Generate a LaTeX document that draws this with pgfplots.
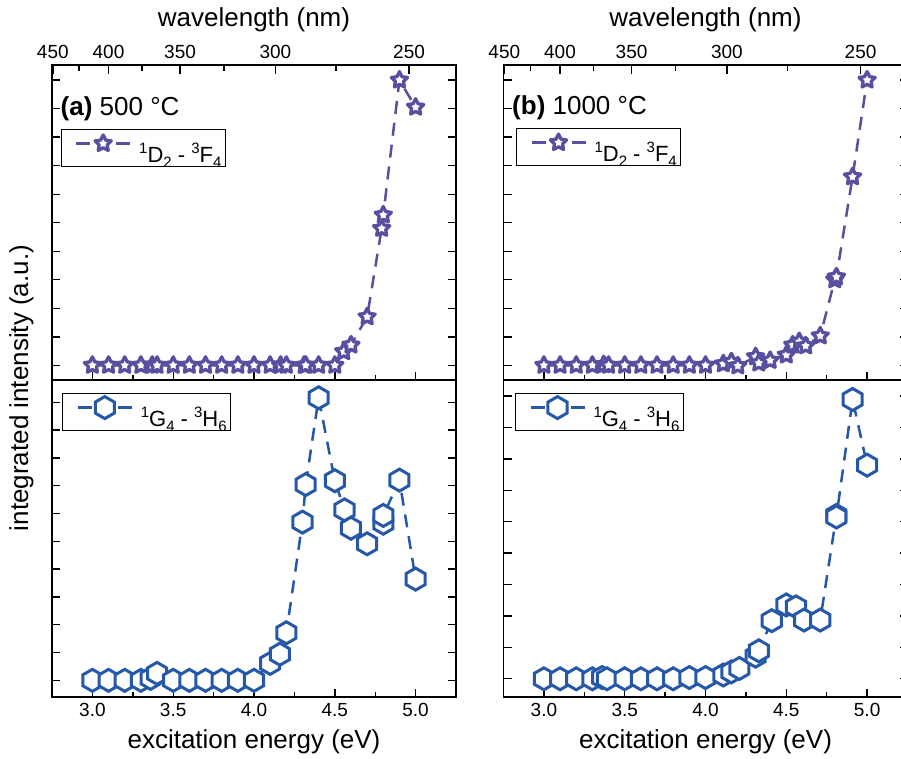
\documentclass[border=0pt]{standalone}
\usepackage{fontspec}
\setmainfont{Liberation Sans}
\usepackage{pgfplots}
\usepackage{pgfplotstable}
\pgfplotsset{compat=1.18}

\definecolor{starcol}{RGB}{89,79,161}
\definecolor{hexcol}{RGB}{38,88,170}

% open five-pointed star
\pgfdeclareplotmark{fivestar}{%
  \pgfpathmoveto{\pgfpointpolar{90}{\pgfplotmarksize}}%
  \pgfpathlineto{\pgfpointpolar{126}{0.5*\pgfplotmarksize}}%
  \pgfpathlineto{\pgfpointpolar{162}{\pgfplotmarksize}}%
  \pgfpathlineto{\pgfpointpolar{198}{0.5*\pgfplotmarksize}}%
  \pgfpathlineto{\pgfpointpolar{234}{\pgfplotmarksize}}%
  \pgfpathlineto{\pgfpointpolar{270}{0.5*\pgfplotmarksize}}%
  \pgfpathlineto{\pgfpointpolar{306}{\pgfplotmarksize}}%
  \pgfpathlineto{\pgfpointpolar{342}{0.5*\pgfplotmarksize}}%
  \pgfpathlineto{\pgfpointpolar{18}{\pgfplotmarksize}}%
  \pgfpathlineto{\pgfpointpolar{54}{0.5*\pgfplotmarksize}}%
  \pgfpathclose
  \pgfusepathqfillstroke
}
% open hexagon, pointy top
\pgfdeclareplotmark{hexa}{%
  \pgfpathmoveto{\pgfpointpolar{90}{\pgfplotmarksize}}%
  \pgfpathlineto{\pgfpointpolar{150}{\pgfplotmarksize}}%
  \pgfpathlineto{\pgfpointpolar{210}{\pgfplotmarksize}}%
  \pgfpathlineto{\pgfpointpolar{270}{\pgfplotmarksize}}%
  \pgfpathlineto{\pgfpointpolar{330}{\pgfplotmarksize}}%
  \pgfpathlineto{\pgfpointpolar{30}{\pgfplotmarksize}}%
  \pgfpathclose
  \pgfusepathqfillstroke
}

% excitation energy (eV) vs integrated intensity (a.u.)
\pgfplotstableread{
E     I
3.00  0
3.10  0
3.20  0
3.30  0
3.37  0
3.40  0
3.50  0
3.60  0
3.70  0
3.80  0
3.90  0
4.00  0
4.10  0
4.165 0
4.20  0
4.31  0
4.32  0
4.40  0
4.50  0
4.555 0.48
4.60  0.71
4.70  1.70
4.79  4.80
4.80  5.27
4.90  10.0
5.00  9.05
}\aD
\pgfplotstableread{
E     I
3.00  0
3.10  0
3.20  0
3.30  0
3.36  0.07
3.40  0.25
3.50  0
3.60  0
3.70  0
3.80  0
3.90  0
4.00  0
4.10  0.61
4.16  0.94
4.20  1.71
4.30  5.69
4.32  7.04
4.40  10.16
4.50  7.18
4.56  6.13
4.60  5.47
4.70  4.91
4.80  5.65
4.80  5.93
4.90  7.20
5.00  3.64
}\aG
\pgfplotstableread{
E     I
3.00  0
3.10  0
3.20  0
3.30  0
3.37  0.02
3.40  0
3.50  0
3.60  0
3.70  0
3.80  0
3.90  0
4.00  0
4.11  0.05
4.16  0.12
4.20  -0.02
4.31  0.30
4.33  0.08
4.40  0.17
4.50  0.36
4.54  0.71
4.58  0.83
4.62  0.68
4.71  1.03
4.80  3.00
4.81  3.10
4.91  6.61
5.00  10.0
}\bD
\pgfplotstableread{
E     I
3.00  0
3.10  0
3.20  0
3.30  0
3.36  0.04
3.39  0
3.50  0
3.60  0
3.70  0
3.80  0
3.90  0.04
4.00  0.04
4.11  0.12
4.16  0.22
4.21  0.33
4.31  0.72
4.33  0.89
4.41  1.85
4.50  2.35
4.56  2.29
4.61  1.87
4.71  1.87
4.81  5.20
4.81  5.15
4.91  8.89
5.00  6.80
}\bG

\pgfplotsset{
  panel/.style={
    scale only axis, anchor=north west, width=404pt,
    xmin=2.75, xmax=5.25,
    xtick={3,3.5,4,4.5,5}, minor xtick={3.25,3.75,4.25,4.75},
    xtick pos=left, tick align=inside,
    yticklabels={},
    major tick length=8pt, minor tick length=5pt,
    axis line style={line width=1.4pt},
    every tick/.style={black, line width=1.4pt},
    tick label style={font=\fontsize{19}{21}\selectfont},
    /pgf/number format/assume math mode=true,
    legend cell align=left,
    legend style={draw=black, line width=1pt, anchor=north west,
      font=\fontsize{22}{24}\selectfont, inner xsep=2pt, inner ysep=1pt,
      nodes={inner xsep=2pt, inner ysep=1pt}},
    legend image code/.code={
      \path[draw=none, fill=none] (-13pt,4pt) rectangle (61pt,5pt);
      \draw[#1,solid,line width=2.8pt] (0pt,4.5pt) -- (14pt,4.5pt);
      \draw[#1,solid,line width=2.8pt] (40pt,4.5pt) -- (54pt,4.5pt);
      \draw[#1,solid] plot[only marks] coordinates {(27pt,4.5pt)};
    },
  },
  toppanel/.style={panel, height=315pt, ymin=-0.515, ymax=10.53,
    ytick={0,...,10}, xticklabels={}},
  wavelength/.style={
    scale only axis, anchor=north west, width=404pt, height=315pt,
    xmin=2.75, xmax=5.25, ymin=0, ymax=1,
    axis x line*=top, axis y line=none,
    tick align=inside,
    xtick={2.7552,3.0996,3.5424,4.1328,4.9594},
    xticklabels={450,400,350,300,250},
    minor xtick={2.9173,3.3062,3.8149,4.5085},
    major tick length=9pt, minor tick length=6pt,
    axis line style={line width=1.4pt},
    every tick/.style={black, line width=1.4pt},
    xticklabel style={font=\fontsize{19}{21}\selectfont, yshift=3pt},
    /pgf/number format/assume math mode=true,
  },
  botpanel/.style={panel, height=317pt,
    xticklabels={3.0,3.5,4.0,4.5,5.0},
    xticklabel style={yshift=-3pt}},
  starline/.style={color=starcol, line width=2.5pt,
    dash pattern=on 13pt off 9pt,
    mark=fivestar, mark size=8.5pt,
    mark options={solid, fill=white, line width=3.3pt, line join=round}},
  hexline/.style={color=hexcol, line width=2.5pt,
    dash pattern=on 13pt off 9pt,
    mark=hexa, mark size=11pt,
    mark options={solid, fill=white, line width=3pt, line join=miter}},
}

% term symbols: raised left superscript, lowered subscript
\newcommand{\sml}[1]{{\fontsize{15}{15}\selectfont #1}}
\newcommand{\term}[3]{\raisebox{9pt}{\sml{#1}}#2\raisebox{-5pt}{\sml{#3}}}
\newcommand{\lstrut}{\rule[-6.7pt]{0pt}{37.7pt}}
\newcommand{\Dlevel}{\lstrut\term{1}{D}{2} - \term{3}{F}{4}}
\newcommand{\Glevel}{\lstrut\term{1}{G}{4} - \term{3}{H}{6}}

\begin{document}
\begin{tikzpicture}
\path[use as bounding box] (0pt,0pt) rectangle (901pt,-758pt);

% ---------- (a) 500 C ----------
\begin{axis}[toppanel, at={(52pt,-65pt)},
    legend style={at={(0.0215,0.796)}}]
  \addplot[starline] table[x=E,y=I] {\aD};
  \addlegendentry{\Dlevel}
\end{axis}
\begin{axis}[wavelength, at={(52pt,-65pt)}]
\end{axis}
\begin{axis}[botpanel, at={(52pt,-380pt)},
    ymin=-0.6, ymax=10.8, ytick={0,...,10},
    legend style={at={(0.0255,0.958)}}]
  \addplot[hexline] table[x=E,y=I] {\aG};
  \addlegendentry{\Glevel}
\end{axis}

% ---------- (b) 1000 C ----------
\begin{axis}[toppanel, at={(503.5pt,-65pt)},
    legend style={at={(0.031,0.799)}}]
  \addplot[starline] table[x=E,y=I] {\bD};
  \addlegendentry{\Dlevel}
\end{axis}
\begin{axis}[wavelength, at={(503.5pt,-65pt)}]
\end{axis}
\begin{axis}[botpanel, at={(503.5pt,-380pt)},
    ymin=-0.58, ymax=9.51, ytick={0,...,9},
    legend style={at={(0.0285,0.958)}}]
  \addplot[hexline] table[x=E,y=I] {\bG};
  \addlegendentry{\Glevel}
\end{axis}

% ---------- titles and labels ----------
\begin{scope}[every node/.style={font=\fontsize{26}{28}\selectfont, inner sep=0pt}]
  \node[anchor=base] at (254pt,-26pt) {wavelength (nm)};
  \node[anchor=base] at (705.5pt,-26pt) {wavelength (nm)};
  \node[anchor=base] at (254pt,-748.3pt) {excitation energy (eV)};
  \node[anchor=base] at (705.5pt,-748.3pt) {excitation energy (eV)};
  \node[anchor=base, rotate=90] at (28pt,-388pt) {integrated intensity (a.u.)};
  \node[anchor=base west] at (60.5pt,-115pt) {\textbf{(a)} 500 °C};
  \node[anchor=base west] at (512pt,-114pt) {\textbf{(b)} 1000 °C};
\end{scope}
\end{tikzpicture}
\end{document}
